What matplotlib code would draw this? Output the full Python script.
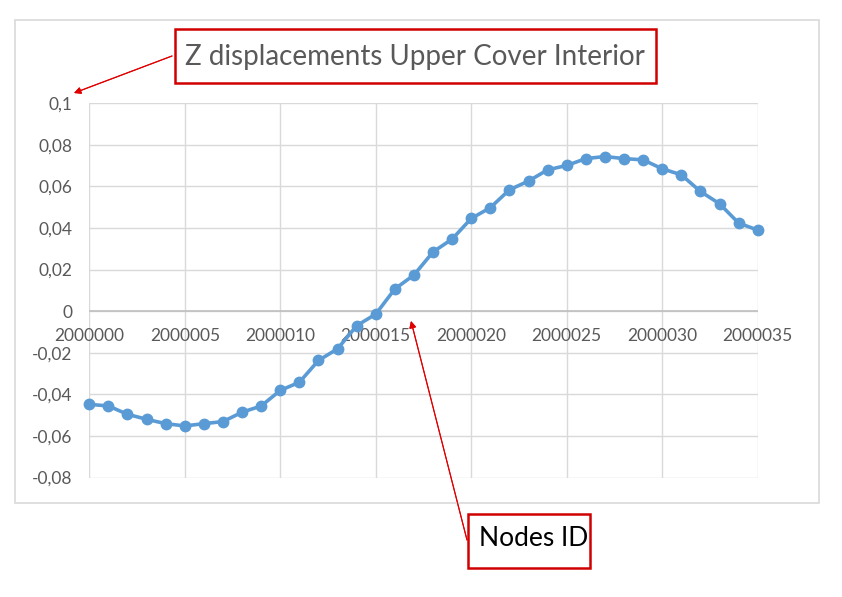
import matplotlib
matplotlib.use("Agg")

import matplotlib.pyplot as plt
from matplotlib.patches import Rectangle

plt.rcParams["font.family"] = ["Lato", "DejaVu Sans"]

W, H = 842, 597

node_ids = list(range(2000000, 2000036))
z_disp = [-0.0448, -0.0456, -0.0496, -0.0520, -0.0541, -0.0552, -0.0541, -0.0531,
          -0.0486, -0.0456, -0.0381, -0.0342, -0.0237, -0.0181, -0.0070, -0.0014,
          0.0107, 0.0174, 0.0285, 0.0347, 0.0446, 0.0498, 0.0584, 0.0626,
          0.0680, 0.0701, 0.0734, 0.0744, 0.0734, 0.0728, 0.0685, 0.0656,
          0.0576, 0.0517, 0.0424, 0.0390]

x_ticks = [2000000, 2000005, 2000010, 2000015, 2000020, 2000025, 2000030, 2000035]
y_ticks = [-0.08, -0.06, -0.04, -0.02, 0.0, 0.02, 0.04, 0.06, 0.08, 0.1]
y_labels = ["-0,08", "-0,06", "-0,04", "-0,02", "0", "0,02", "0,04", "0,06", "0,08", "0,1"]

title = "Z displacements Upper Cover Interior"
xlabel_note = "Nodes ID"


def px(x, y):
    # pixel (top-left origin) -> figure fraction
    return x / W, 1 - y / H


fig = plt.figure(figsize=(W / 100, H / 100), dpi=100)

# chart frame
fig.patches.append(Rectangle(px(15, 502.5), 804 / W, 482.5 / H, transform=fig.transFigure,
                             fill=False, edgecolor="#d9d9d9", linewidth=1.2))

x0, y0 = px(89.3, 477.5)
ax = fig.add_axes([x0, y0, (757.7 - 89.3) / W, (477.5 - 103.3) / H])

ax.plot(node_ids, z_disp, color="#5b9bd5", linewidth=2.6, marker="o",
        markersize=7.5, clip_on=False, zorder=3)

ax.set_xlim(2000000, 2000035)
ax.set_ylim(-0.08, 0.1)
ax.set_xticks(x_ticks)
ax.set_xticklabels([str(t) for t in x_ticks])
ax.set_yticks(y_ticks)
ax.set_yticklabels(y_labels)

for s in ax.spines.values():
    s.set_visible(False)
ax.grid(True, color="#d9d9d9", linewidth=1.0)
ax.set_axisbelow(True)
ax.axhline(0, color="#bfbfbf", linewidth=1.2, zorder=1)

ax.tick_params(axis="both", length=0, labelsize=12.5, labelcolor="#595959")
ax.tick_params(axis="x", pad=12)
ax.tick_params(axis="y", pad=12)

# x labels sit just under the zero line
for lbl in ax.get_xticklabels():
    lbl.set_y(0.5)
ax.xaxis.set_tick_params(labelbottom=True)
ax.spines["bottom"].set_position(("data", 0))

# title box + arrow
fig.patches.append(Rectangle(px(174.5, 83), (656 - 174.5) / W, (83 - 29.5) / H,
                             transform=fig.transFigure, fill=False,
                             edgecolor="#d00000", linewidth=1.8))
fig.text(*px(415, 57), title, ha="center", va="center", fontsize=20, color="#595959")
fig.add_artist(plt.annotate("", xy=px(74, 93), xytext=px(172, 56),
                            xycoords="figure fraction", textcoords="figure fraction",
                            arrowprops=dict(arrowstyle="-|>", color="#e00000",
                                            linewidth=0.8, mutation_scale=10,
                                            shrinkA=0, shrinkB=0)))

# nodes id box + arrow
fig.patches.append(Rectangle(px(468, 567.5), (590 - 468) / W, (567.5 - 513.5) / H,
                             transform=fig.transFigure, fill=False,
                             edgecolor="#d00000", linewidth=1.8))
fig.text(*px(479, 538), xlabel_note, ha="left", va="center", fontsize=19, color="black")
fig.add_artist(plt.annotate("", xy=px(411, 321), xytext=px(467, 540),
                            xycoords="figure fraction", textcoords="figure fraction",
                            arrowprops=dict(arrowstyle="-|>", color="#e00000",
                                            linewidth=0.8, mutation_scale=10,
                                            shrinkA=0, shrinkB=0)))

fig.savefig("out.png", dpi=100)
